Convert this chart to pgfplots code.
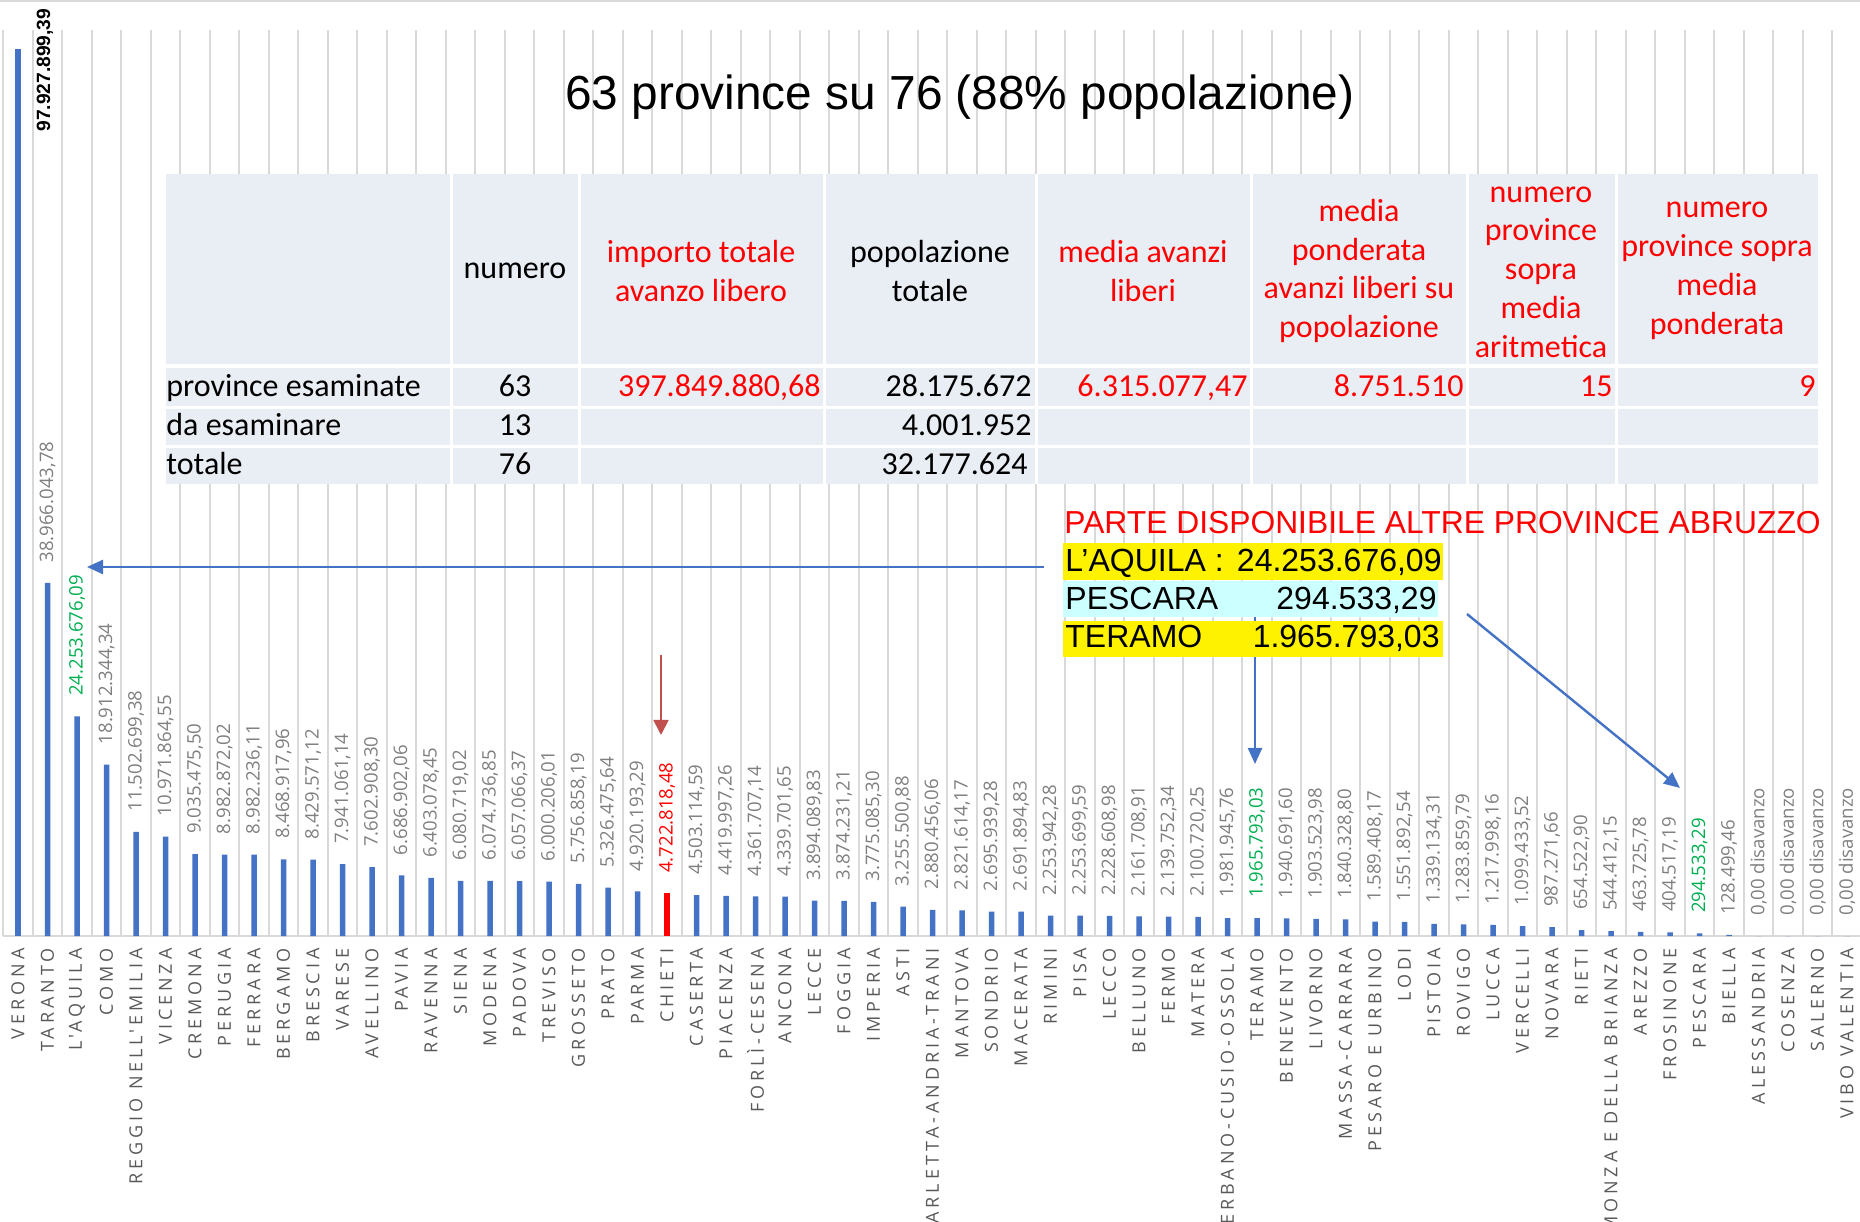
\documentclass[border=0pt]{standalone}
\usepackage{fontspec}
\setmainfont{Liberation Sans}
\newfontfamily\osans{Open Sans}
\newfontfamily\catfont{Open Sans}[LetterSpace=22]
\newfontfamily\calib{Carlito}
\usepackage{xcolor}
\usepackage{pgfplots}
\usepackage{pgfplotstable}
\pgfplotsset{compat=1.18}
\usetikzlibrary{arrows.meta}

\definecolor{barblue}{HTML}{4472C4}
\definecolor{gridgray}{HTML}{D9D9D9}
\definecolor{lblgray}{HTML}{7F7F7F}
\definecolor{catgray}{HTML}{595959}
\definecolor{exgreen}{HTML}{00B050}
\definecolor{tabbg}{HTML}{E9EDF4}
\definecolor{cyanbox}{HTML}{CCFFFF}
\definecolor{chietiarrow}{HTML}{C0504D}

% avanzo libero per provincia (x = posizione nella classifica)
\pgfplotstableread[col sep=semicolon]{
x;y;lab
0;97927899.39;97.927.899,39
}\verbar

\pgfplotstableread[col sep=semicolon]{
x;y;lab
2;24253676.09;24.253.676,09
42;1965793.03;1.965.793,03
57;294533.29;294.533,29
}\abrbars

\pgfplotstableread[col sep=semicolon]{
x;y;lab
22;4722818.48;4.722.818,48
}\chieti

\pgfplotstableread[col sep=semicolon]{
x;y;lab
1;38966043.78;38.966.043,78
3;18912344.34;18.912.344,34
4;11502699.38;11.502.699,38
5;10971864.55;10.971.864,55
6;9035475.50;9.035.475,50
7;8982872.02;8.982.872,02
8;8982236.11;8.982.236,11
9;8468917.96;8.468.917,96
10;8429571.12;8.429.571,12
11;7941061.14;7.941.061,14
12;7602908.30;7.602.908,30
13;6686902.06;6.686.902,06
14;6403078.45;6.403.078,45
15;6080719.02;6.080.719,02
16;6074736.85;6.074.736,85
17;6057066.37;6.057.066,37
18;6000206.01;6.000.206,01
19;5756858.19;5.756.858,19
20;5326475.64;5.326.475,64
21;4920193.29;4.920.193,29
23;4503114.59;4.503.114,59
24;4419997.26;4.419.997,26
25;4361707.14;4.361.707,14
26;4339701.65;4.339.701,65
27;3894089.83;3.894.089,83
28;3874231.21;3.874.231,21
29;3775085.30;3.775.085,30
30;3255500.88;3.255.500,88
31;2880456.06;2.880.456,06
32;2821614.17;2.821.614,17
33;2695939.28;2.695.939,28
34;2691894.83;2.691.894,83
35;2253942.28;2.253.942,28
36;2253699.59;2.253.699,59
37;2228608.98;2.228.608,98
38;2161708.91;2.161.708,91
39;2139752.34;2.139.752,34
40;2100720.25;2.100.720,25
41;1981945.76;1.981.945,76
43;1940691.60;1.940.691,60
44;1903523.98;1.903.523,98
45;1840328.80;1.840.328,80
46;1589408.17;1.589.408,17
47;1551892.54;1.551.892,54
48;1339134.31;1.339.134,31
49;1283859.79;1.283.859,79
50;1217998.16;1.217.998,16
51;1099433.52;1.099.433,52
52;987271.66;987.271,66
53;654522.90;654.522,90
54;544412.15;544.412,15
55;463725.78;463.725,78
56;404517.19;404.517,19
58;128499.46;128.499,46
59;0;0,00 disavanzo
60;0;0,00 disavanzo
61;0;0,00 disavanzo
62;0;0,00 disavanzo
}\mainbars

\begin{document}
\begin{tikzpicture}
\path[use as bounding box] (0,0) rectangle (930pt,611pt);
\clip (0,0) rectangle (930pt,611pt);

\begin{axis}[
  at={(1.625pt,143pt)}, anchor=south west,
  scale only axis, width=929.25pt, height=453pt,
  xmin=-0.5, xmax=62.5, ymin=0, ymax=100000000,
  enlargelimits=false, clip=false,
  ybar, bar width=2.75pt, bar shift=0pt,
  axis y line=none, axis x line=bottom,
  x axis line style={-, draw=gridgray, line width=1pt},
  ytick=\empty,
  xtick={0,...,62},
  xticklabels={VERONA, TARANTO, L'AQUILA, COMO, REGGIO NELL'EMILIA, VICENZA,
    CREMONA, PERUGIA, FERRARA, BERGAMO, BRESCIA, VARESE, AVELLINO, PAVIA,
    RAVENNA, SIENA, MODENA, PADOVA, TREVISO, GROSSETO, PRATO, PARMA, CHIETI,
    CASERTA, PIACENZA, FORLÌ-CESENA, ANCONA, LECCE, FOGGIA, IMPERIA, ASTI,
    BARLETTA-ANDRIA-TRANI, MANTOVA, SONDRIO, MACERATA, RIMINI, PISA, LECCO,
    BELLUNO, FERMO, MATERA, VERBANO-CUSIO-OSSOLA, TERAMO, BENEVENTO, LIVORNO,
    MASSA-CARRARA, PESARO E URBINO, LODI, PISTOIA, ROVIGO, LUCCA, VERCELLI,
    NOVARA, RIETI, MONZA E DELLA BRIANZA, AREZZO, FROSINONE, PESCARA, BIELLA,
    ALESSANDRIA, COSENZA, SALERNO, VIBO VALENTIA},
  major tick length=0pt, minor tick length=0pt,
  xtick style={draw=none}, minor tick style={draw=none},
  minor xtick={-0.5,0.5,...,62.5},
  xminorgrids=true,
  minor x grid style={draw=gridgray, line width=1pt},
  xticklabel style={font=\catfont\fontsize{9}{10}\selectfont, text=catgray,
    rotate=90, anchor=east, inner xsep=6pt, inner ysep=0pt},
  nodes near coords,
  every node near coord/.append style={font=\osans\fontsize{9.3}{10}\selectfont,
    rotate=90, anchor=west, inner xsep=10pt, inner ysep=0pt},
  point meta=explicit symbolic,
]
\addplot[fill=barblue, draw=none,
  every node near coord/.append style={text=lblgray}]
  table[x=x, y=y, meta=lab] {\mainbars};
\addplot[fill=barblue, draw=none,
  every node near coord/.append style={text=exgreen}]
  table[x=x, y=y, meta=lab] {\abrbars};
\addplot[fill=red, draw=none,
  every node near coord/.append style={text=red}]
  table[x=x, y=y, meta=lab] {\chieti};
\addplot[fill=barblue, draw=none,
  every node near coord/.append style={font=\bfseries\fontsize{9.6}{11}\selectfont,
    text=black, inner sep=0pt, xshift=-41.6pt, yshift=-13.5pt}]
  table[x=x, y=y, meta=lab] {\verbar};
\end{axis}

% overlay: coordinates in pixels of the original picture
\begin{scope}[x=0.5pt, y=-0.5pt, shift={(0pt,611pt)}]
  \draw[gridgray, line width=1.5pt] (0,1) -- (1860,1);

  % title
  \node[anchor=base, inner sep=0pt, font=\fontsize{23.9}{28}\selectfont]
    at (960,110) {63 province su 76 (88\% popolazione)};

  % table
  \fill[tabbg] (166,174) rectangle (1818,484);
  \foreach \cx in {451,579,824,1036,1251,1467,1616}
    \draw[white, line width=1.5pt] (\cx,174) -- (\cx,484);
  \draw[white, line width=2pt] (166,366) -- (1818,366);
  \draw[white, line width=1.5pt] (166,407.5) -- (1818,407.5);
  \draw[white, line width=1.5pt] (166,446.5) -- (1818,446.5);

  \begin{scope}[every node/.style={font=\calib\fontsize{16}{19.4}\selectfont, align=center, inner sep=0pt}]
    \node at (515,271) {numero};
    \node[red] at (701,271) {importo totale\\avanzo libero};
    \node at (930,271) {popolazione\\totale};
    \node[red] at (1143,271) {media avanzi\\liberi};
    \node[red] at (1359,271) {media\\ponderata\\avanzi liberi su\\popolazione};
    \node[red] at (1541,272) {numero\\province\\sopra\\media\\aritmetica};
    \node[red] at (1717,271) {numero\\province sopra\\media\\ponderata};

    \node[anchor=mid west] at (166,391) {province esaminate};
    \node[anchor=mid west] at (166,430) {da esaminare};
    \node[anchor=mid west] at (166,469) {totale};
    \node[anchor=mid] at (515,391) {63};
    \node[anchor=mid] at (515,430) {13};
    \node[anchor=mid] at (515,469) {76};
    \node[anchor=mid east, red] at (821,391) {397.849.880,68};
    \node[anchor=mid east] at (1032,391) {28.175.672};
    \node[anchor=mid east] at (1032,430) {4.001.952};
    \node[anchor=mid east] at (1028,469) {32.177.624};
    \node[anchor=mid east, red] at (1248,391) {6.315.077,47};
    \node[anchor=mid east, red] at (1464,391) {8.751.510};
    \node[anchor=mid east, red] at (1613,391) {15};
    \node[anchor=mid east, red] at (1816,391) {9};
  \end{scope}

  % arrows
  \draw[barblue, line width=1.2pt, -{Triangle[length=8pt,width=7pt]}] (1044,567) -- (87,567);
  \draw[barblue, line width=1.2pt, -{Triangle[length=8pt,width=7pt]}] (1255,617) -- (1255,764);
  \draw[barblue, line width=1.2pt, -{Triangle[length=8pt,width=7pt]}] (1467,614) -- (1680,788);
  \draw[chietiarrow, line width=0.9pt, -{Triangle[length=7.5pt,width=7.5pt]}] (661,655) -- (661,735);

  % Abruzzo box
  \node[anchor=base west, inner sep=0pt, text=red, font=\fontsize{15.9}{18}\selectfont]
    at (1064,534) {PARTE DISPONIBILE ALTRE PROVINCE ABRUZZO};
  \fill[yellow] (1063,543) rectangle (1443,580);
  \fill[cyanbox] (1063,581) rectangle (1438,617);
  \fill[yellow] (1063,621) rectangle (1443,657);
  \begin{scope}[every node/.style={inner sep=0pt, font=\fontsize{16}{18}\selectfont}]
    \node[anchor=base west] at (1065,572) {L’AQUILA :};
    \node[anchor=base east] at (1442,572) {24.253.676,09};
    \node[anchor=base west] at (1065,610) {PESCARA};
    \node[anchor=base east] at (1437,610) {294.533,29};
    \node[anchor=base west] at (1065,648) {TERAMO};
    \node[anchor=base east] at (1440,648) {1.965.793,03};
  \end{scope}
\end{scope}
\end{tikzpicture}
\end{document}
